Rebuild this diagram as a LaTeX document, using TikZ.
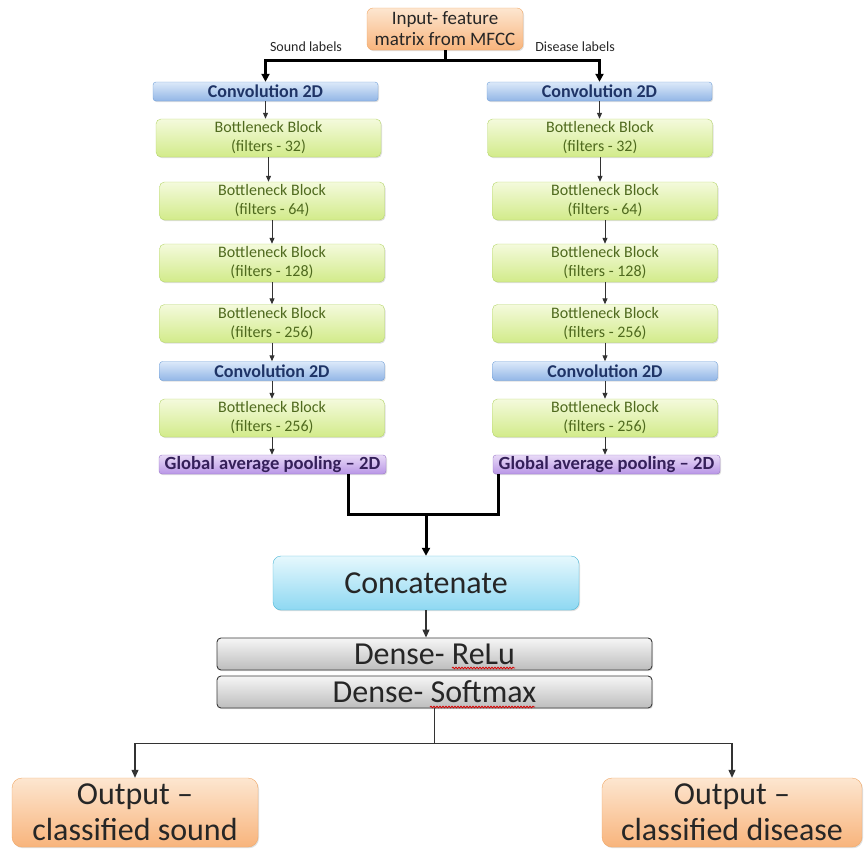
\documentclass[tikz,border=0pt]{standalone}
\usepackage{fontspec}
\setmainfont{Carlito}
\usetikzlibrary{arrows.meta,shadows,decorations.pathmorphing}
\definecolor{orT}{HTML}{FDE6D0}
\definecolor{orB}{HTML}{F8B47C}
\definecolor{orD}{HTML}{F0A868}
\definecolor{blT}{HTML}{DCE9F9}
\definecolor{blB}{HTML}{92B6E6}
\definecolor{blD}{HTML}{6F9FD8}
\definecolor{blTx}{HTML}{1F3466}
\definecolor{grT}{HTML}{F4FADC}
\definecolor{grB}{HTML}{D2EB8A}
\definecolor{grD}{HTML}{B5D66A}
\definecolor{grTx}{HTML}{4F6A1E}
\definecolor{puT}{HTML}{E8DAF7}
\definecolor{puB}{HTML}{B996E6}
\definecolor{puD}{HTML}{9A78C8}
\definecolor{puTx}{HTML}{35205A}
\definecolor{cyT}{HTML}{E6F8FD}
\definecolor{cyB}{HTML}{8ED8F2}
\definecolor{cyD}{HTML}{4BB6D6}
\definecolor{gyT}{HTML}{F6F6F6}
\definecolor{gyB}{HTML}{BDBDBD}
\definecolor{gyD}{HTML}{3A3A3A}
\definecolor{txD}{HTML}{262626}
\definecolor{lnC}{HTML}{333333}
\begin{document}
\begin{tikzpicture}[x=1pt,y=-1pt,
  basebox/.style={draw, inner sep=0pt, align=center,
    drop shadow={opacity=0.25, shadow xshift=1pt, shadow yshift=-1.2pt}},
  inbox/.style={basebox, rounded corners=6pt, top color=orT, bottom color=orB, draw=orD,
    text=txD, minimum width=156pt, minimum height=42pt, font=\fontsize{19}{21}\selectfont},
  outbox/.style={basebox, rounded corners=10pt, top color=orT, bottom color=orB, draw=orD,
    text=txD, minimum height=69pt, font=\fontsize{32}{36}\selectfont},
  convbox/.style={basebox, rounded corners=3pt, top color=blT, bottom color=blB, draw=blD,
    text=blTx, minimum width=225pt, minimum height=19pt, font=\fontsize{18}{19}\selectfont\bfseries},
  bnbox/.style={basebox, rounded corners=5pt, top color=grT, bottom color=grB, draw=grD,
    text=grTx, minimum width=225pt, minimum height=38pt, font=\fontsize{16}{19}\selectfont},
  gapbox/.style={basebox, rounded corners=3pt, top color=puT, bottom color=puB, draw=puD,
    text=puTx, minimum width=227pt, minimum height=19pt, font=\fontsize{18.6}{19}\selectfont\bfseries},
  catbox/.style={basebox, rounded corners=8pt, top color=cyT, bottom color=cyB, draw=cyD,
    text=txD, minimum width=306pt, minimum height=54pt, font=\fontsize{32}{36}\selectfont},
  densebox/.style={basebox, rounded corners=4pt, top color=gyT, bottom color=gyB, draw=gyD,
    line width=0.9pt, text=txD, minimum width=435pt, minimum height=32pt, font=\fontsize{32}{36}\selectfont},
  lbl/.style={inner sep=0pt, text=txD, font=\fontsize{14}{16}\selectfont},
  thk/.style={line width=3pt, black},
  thkarr/.style={thk, -{Triangle[length=8pt,width=8pt]}},
  tarr/.style={draw=lnC, line width=1pt, -{Triangle[length=6pt,width=5pt]}},
  tarrb/.style={draw=lnC, line width=1.1pt, -{Triangle[length=8pt,width=7pt]}},
  squig/.style={draw=red!85!black, line width=0.8pt, decorate,
    decoration={snake, amplitude=0.8pt, segment length=3pt}}
]
\useasboundingbox (0,0) rectangle (865,849);

% input
\node[inbox] (in) at (445,29) {Input- feature\\matrix from MFCC};
\node[lbl] (sl) at (306,47) {Sound labels};
\node[lbl] (dl) at (575,47) {Disease labels};

% left column
\node[convbox] (c1L) at (265.5,91.5) {Convolution 2D};
\node[bnbox] (b1L) at (268.5,138) {Bottleneck Block\\(filters - 32)};
\node[bnbox] (b2L) at (272,201) {Bottleneck Block\\(filters - 64)};
\node[bnbox] (b3L) at (272,263) {Bottleneck Block\\(filters - 128)};
\node[bnbox] (b4L) at (272,323.5) {Bottleneck Block\\(filters - 256)};
\node[convbox] (c2L) at (272,371) {Convolution 2D};
\node[bnbox] (b5L) at (272,418) {Bottleneck Block\\(filters - 256)};
\node[gapbox] (gL) at (272.5,464.5) {Global average pooling – 2D};

% right column
\node[convbox] (c1R) at (599.5,91.5) {Convolution 2D};
\node[bnbox] (b1R) at (600,138) {Bottleneck Block\\(filters - 32)};
\node[bnbox] (b2R) at (605,201) {Bottleneck Block\\(filters - 64)};
\node[bnbox] (b3R) at (605,263) {Bottleneck Block\\(filters - 128)};
\node[bnbox] (b4R) at (605,323.5) {Bottleneck Block\\(filters - 256)};
\node[convbox] (c2R) at (605,371) {Convolution 2D};
\node[bnbox] (b5R) at (605,418) {Bottleneck Block\\(filters - 256)};
\node[gapbox] (gR) at (606.5,464.5) {Global average pooling – 2D};

% merge
\node[catbox] (cat) at (426,583) {Concatenate};
\node[densebox] (relu) at (434.5,654) {Dense- ReLu};
\node[densebox] (sm) at (434.5,692) {Dense- Softmax};

% outputs
\node[outbox, minimum width=246pt] (oL) at (135,812.5) {Output –\\classified sound};
\node[outbox, minimum width=260pt] (oR) at (732,812.5) {Output –\\classified disease};

% split from input
\draw[thkarr] (in.south) -- ++(0,10) -| (c1L.north);
\draw[thkarr] (in.south) -- ++(0,10) -| (c1R.north);

% column arrows
\foreach \col in {L,R}{
  \draw[tarr] (c1\col.south) -- (c1\col.south |- b1\col.north);
  \draw[tarr] (b1\col.south) -- (b1\col.south |- b2\col.north);
  \draw[tarr] (b2\col.south) -- (b2\col.south |- b3\col.north);
  \draw[tarr] (b3\col.south) -- (b3\col.south |- b4\col.north);
  \draw[tarr] (b4\col.south) -- (b4\col.south |- c2\col.north);
  \draw[tarr] (c2\col.south) -- (c2\col.south |- b5\col.north);
  \draw[tarr] (b5\col.south) -- (b5\col.south |- gL.north);
}

% merge lines
\coordinate (mL) at (348,514);
\coordinate (mR) at (498,514);
\coordinate (mC) at (426,514);
\draw[thk] (gL.south -| mL) -- (mL) -- (mR) -- (gR.south -| mR);
\draw[thkarr] (mC) -- (cat.north);

\draw[tarrb] (cat.south) -- (cat.south |- relu.north);

% split to outputs
\draw[tarrb] (sm.south) -- ++(0,35) -| (oL.north);
\draw[tarrb] (sm.south) -- ++(0,35) -| (oR.north);

% spell-check squiggles
\coordinate (q1a) at (452,668);
\coordinate (q1b) at (515,668);
\coordinate (q2a) at (430,707);
\coordinate (q2b) at (535,707);
\draw[squig] (q1a) -- (q1b);
\draw[squig] (q2a) -- (q2b);
\end{tikzpicture}
\end{document}
